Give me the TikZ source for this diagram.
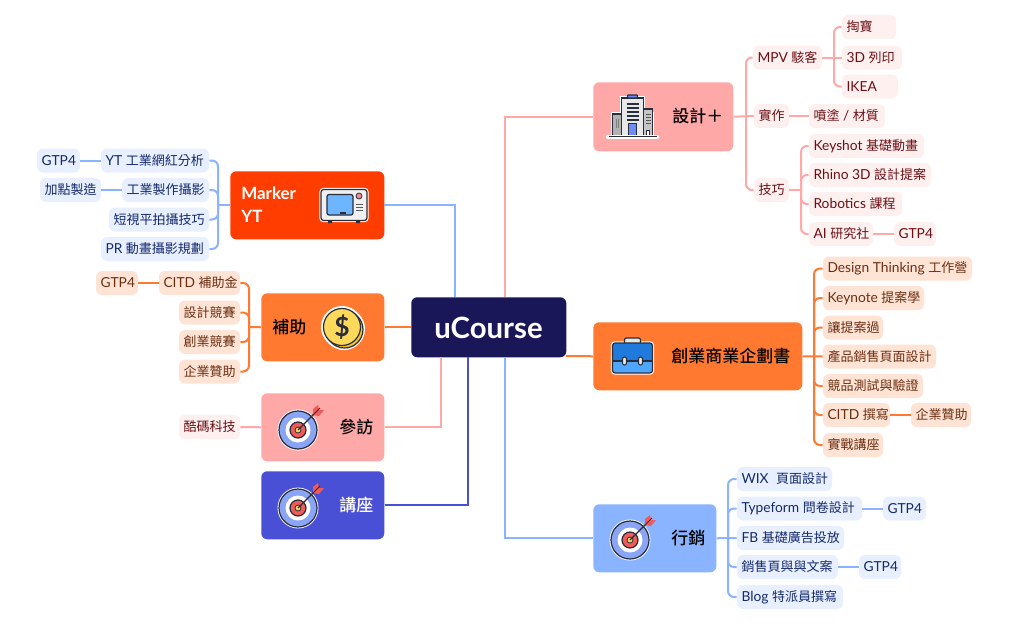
\documentclass[tikz,border=0pt]{standalone}
\usepackage{fontspec}
\setmainfont[Scale=1.06]{Lato}
\newfontfamily\cjk[BoldFont={Noto Sans CJK TC Medium}]{Noto Sans CJK TC}
\newcommand\C[1]{{\cjk #1}}
\usetikzlibrary{calc}
\definecolor{navy}{HTML}{1A1759}
\definecolor{pinkm}{HTML}{FFA8A8}
\definecolor{redm}{HTML}{FF3D00}
\definecolor{orgm}{HTML}{FF7A30}
\definecolor{indm}{HTML}{4A50D6}
\definecolor{blum}{HTML}{8AB4FF}
\definecolor{pinkl}{HTML}{FFF0F0}
\definecolor{orgl}{HTML}{FFE4D6}
\definecolor{blul}{HTML}{E8F0FF}
\definecolor{pinkt}{HTML}{6B0F14}
\definecolor{orgt}{HTML}{6B2F12}
\definecolor{blut}{HTML}{14296B}
\definecolor{ink}{HTML}{2A2D3A}
\definecolor{ringb}{HTML}{8AA5F5}
\definecolor{ringr}{HTML}{F05A5A}
\definecolor{gold}{HTML}{FFD95A}
\definecolor{gold2}{HTML}{F2C230}
\definecolor{screen}{HTML}{6DB6FF}
\definecolor{caset}{HTML}{1F7ADB}
\definecolor{caseb}{HTML}{4DA6FF}
\definecolor{doorb}{HTML}{6E8CF5}
\tikzset{
  x=0.75pt,y=-0.75pt,
  box/.style={rounded corners=4.5pt,inner sep=0pt,anchor=north west},
  mlabel/.style={anchor=west,inner sep=0pt,font=\fontsize{12.75pt}{17pt}\selectfont\bfseries,text=black},
  leafbase/.style={rounded corners=4.5pt,inner sep=0pt,minimum height=18pt,font=\fontsize{9.75pt}{12pt}\selectfont},
  lfp/.style={leafbase,fill=pinkl,text=pinkt},
  lfo/.style={leafbase,fill=orgl,text=orgt},
  lfb/.style={leafbase,fill=blul,text=blut},
  wire/.style={line width=1.5pt,line join=miter},
  wsoft/.style={line width=1.5pt,rounded corners=4.5pt},
  icon/.style={draw=ink,line width=0.9pt},
  halo/.style={draw=white,line width=2.2pt},
  targeticon/.pic={
    \draw[halo,fill=white] (0,0) circle (19);
    \draw[icon,fill=ringb] (0,0) circle (19);
    \fill[white] (0,0) circle (12.5);
    \draw[icon,fill=ringr] (0,0) circle (8);
    \draw[icon,fill=gold,line width=0.6pt] (0,0) circle (3);
    \draw[ink,line width=1pt] (0,0) -- (17,-17);
    \fill[ringr] (15,-15) -- (15,-21) -- (20,-25) -- (21,-20) -- (26,-20) -- (21,-14) -- cycle;
    \draw[ink,line width=.6pt] (15,-15) -- (22,-22);
  },
  buildingicon/.pic={
    \draw[white,line width=2.5pt] (-20,20) rectangle (20,-2) (-11,20) rectangle (11,-18);
    \draw[icon,fill=gray!60] (-20,20) rectangle (-11,-2);
    \draw[icon,fill=gray!45] (11,20) rectangle (20,-7);
    \draw[icon,fill=gray!18] (-11,20) -- (-11,-18) -- (11,-18) -- (11,20) -- cycle;
    \draw[icon,fill=doorb,rounded corners=.5pt] (-5,-18) rectangle (5,-21);
    \foreach \yy in {-12,-8,-4,0,4}{\draw[ink,line width=.8pt] (-6,\yy) -- (6,\yy);}
    \draw[ink,line width=.7pt,fill=doorb] (-4,19) rectangle (4,7);
    \foreach \yy in {-2,1,4,7}{\draw[ink!80,line width=.6pt] (13,\yy) -- (18,\yy);}
    \draw[ink,line width=.5pt,fill=white] (14,19) rectangle (17,14);
    \draw[gray,line width=.8pt] (-16,3) -- (-16,12) (-14,3) -- (-14,12);
    \draw[white,line width=2.5pt,line cap=round] (-25,21) -- (25,21);
    \draw[ink,line width=1.2pt] (-24,20.5) -- (24,20.5);
  },
  tvicon/.pic={
    \draw[white,line width=2.5pt,rounded corners=2pt] (-23,-15.5) rectangle (23,15.5);
    \fill[ink] (-16,15) rectangle (-12,18) (12,15) rectangle (16,18);
    \draw[icon,fill=gray!12,rounded corners=2pt] (-23,-15.5) rectangle (23,15.5);
    \draw[icon,fill=screen,rounded corners=1.5pt] (-17,-10.5) rectangle (9,10);
    \draw[ink,line width=.8pt] (-4,8) -- (2,8);
    \draw[ink,line width=.6pt,fill=ringr!70!white] (15,-9) circle (3);
    \foreach \yy in {-1,2,5}{\draw[ink!80,line width=.7pt] (11.5,\yy) -- (19,\yy);}
  },
  coinicon/.pic={
    \draw[white,line width=3pt] (2,2) circle (19);
    \draw[white,line width=3pt] (0,0) circle (19);
    \draw[icon,fill=gold2] (2.5,2.5) circle (18.5);
    \draw[icon,fill=gold] (0,0) circle (18.5);
    \node[inner sep=0pt,text=ink,font=\fontsize{18.7pt}{20pt}\selectfont\bfseries] (coinmark) at (0,0) {\$};
  },
  caseicon/.pic={
    \draw[white,line width=2.5pt,rounded corners=2pt] (-20,-13) rectangle (20,17);
    \draw[icon,fill=gray!20,rounded corners=1.5pt] (-8,-13) -- (-8,-18) -- (8,-18) -- (8,-13);
    \fill[caset,rounded corners=2pt] (-20,-13) rectangle (20,6);
    \fill[caseb,rounded corners=2pt] (-20,5) rectangle (20,17);
    \draw[ink,line width=.9pt] (-20,5) -- (20,5);
    \draw[icon,rounded corners=2pt] (-20,-13) rectangle (20,17);
    \foreach \xx in {-8,8}{\draw[ink,line width=.8pt,fill=gray!15,rounded corners=1.5pt] (\xx-2,1) rectangle (\xx+2,9);}
  },
}
% \leaf{style}{name}{x1}{x2}{ycentre}{text}
\newcommand\leaf[6]{%
  \pgfmathsetmacro\lcx{(#3+#4)/2}%
  \pgfmathsetmacro\lwd{(#4-#3)*0.75}%
  \node[#1,minimum width=\lwd pt] (#2) at (\lcx,#5) {\makebox[\lwd pt][l]{\hspace{3.4pt}\raisebox{-.5pt}{#6}}};}
\newcommand\mainbox[6]{%
  \pgfmathsetmacro\lwd{(#4-#3)*0.75}%
  \pgfmathsetmacro\lht{(#6-#5)*0.75}%
  \node[box,fill=#2,minimum width=\lwd pt,minimum height=\lht pt] (#1) at (#3,#5) {};}
\begin{document}
\begin{tikzpicture}
\useasboundingbox (0,0) rectangle (1010,625);
\fill[white] (0,0) rectangle (1010,625);

% main boxes
\mainbox{core}{navy}{411}{566}{297}{357}
\mainbox{design}{pinkm}{593}{733}{82}{151}
\mainbox{marker}{redm}{230}{384}{171}{239}
\mainbox{aid}{orgm}{261}{384}{293}{361}
\mainbox{visit}{pinkm}{261}{384}{393}{461}
\mainbox{talk}{indm}{261}{384}{471}{539}
\mainbox{plan}{orgm}{593}{802}{322}{390}
\mainbox{market}{blum}{593}{716}{504}{572}

% leaves: design
\leaf{lfp}{mpv}{753}{822}{57.5}{MPV \C{駭客}}
\leaf{lfp}{taobao}{842}{896}{27}{\C{掏寶}}
\leaf{lfp}{print}{842}{902}{57.5}{3D \C{列印}}
\leaf{lfp}{ikea}{842}{898}{86.5}{IKEA}
\leaf{lfp}{make}{754}{789}{116}{\C{實作}}
\leaf{lfp}{paint}{809}{885}{116}{\C{噴塗} / \C{材質}}
\leaf{lfp}{skill}{754}{789}{190}{\C{技巧}}
\leaf{lfp}{keyshot}{809}{924}{146}{Keyshot \C{基礎動畫}}
\leaf{lfp}{rhino}{809}{931}{175}{Rhino 3D \C{設計提案}}
\leaf{lfp}{robot}{809}{902}{204}{Robotics \C{課程}}
\leaf{lfp}{ai}{809}{873}{234}{AI \C{研究社}}
\leaf{lfp}{aigtp}{894}{936}{234}{GTP4}
% leaves: marker
\leaf{lfb}{yt}{101}{209}{160.5}{YT \C{工業網紅分析}}
\leaf{lfb}{ytgtp}{37}{80}{160.5}{GTP4}
\leaf{lfb}{shoot}{122}{209}{190}{\C{工業製作攝影}}
\leaf{lfb}{addon}{40}{101}{190}{\C{加點製造}}
\leaf{lfb}{short}{109}{209}{219.5}{\C{短視平拍攝技巧}}
\leaf{lfb}{pr}{101}{209}{249}{PR \C{動畫攝影規劃}}
% leaves: aid
\leaf{lfo}{citd}{159}{240}{283}{CITD \C{補助金}}
\leaf{lfo}{citdgtp}{96}{138}{283}{GTP4}
\leaf{lfo}{dcomp}{179}{240}{312.5}{\C{設計競賽}}
\leaf{lfo}{scomp}{179}{240}{342}{\C{創業競賽}}
\leaf{lfo}{spons}{179}{240}{371.5}{\C{企業贊助}}
% leaf: visit
\leaf{lfp}{coolmark}{179}{240}{427}{\C{酷碼科技}}
% leaves: plan
\leaf{lfo}{dt}{823}{972}{268.5}{Design Thinking \C{工作營}}
\leaf{lfo}{keynote}{823}{924}{298}{Keynote \C{提案學}}
\leaf{lfo}{pitch}{823}{883}{327.5}{\C{讓提案過}}
\leaf{lfo}{page}{823}{936}{356.5}{\C{產品銷售頁面設計}}
\leaf{lfo}{test}{823}{923}{386}{\C{競品測試與驗證}}
\leaf{lfo}{citdw}{823}{890}{415}{CITD \C{撰寫}}
\leaf{lfo}{corp}{911}{971}{415}{\C{企業贊助}}
\leaf{lfo}{real}{823}{883}{445}{\C{實戰講座}}
% leaves: market
\leaf{lfb}{wix}{737}{832}{479}{WIX\hspace{3pt} \C{頁面設計}}
\leaf{lfb}{form}{737}{862}{508.5}{Typeform \C{問卷設計}}
\leaf{lfb}{formgtp}{883}{926}{508.5}{GTP4}
\leaf{lfb}{fb}{737}{844}{538}{FB \C{基礎廣告投放}}
\leaf{lfb}{sales}{737}{838}{567}{\C{銷售頁與與文案}}
\leaf{lfb}{salesgtp}{859}{901}{567}{GTP4}
\leaf{lfb}{blog}{737}{843}{597}{Blog \C{特派員撰寫}}

% spine points
\coordinate (sdesign) at (746,116.5);
\coordinate (smpv) at (834,57.5);
\coordinate (sskill) at (801,190);
\coordinate (smarker) at (218,205);
\coordinate (said) at (249,327);
\coordinate (splan) at (814,356);
\coordinate (smarket) at (728,538);
\coordinate (jmarker) at (455,297);
\coordinate (jdesign) at (505,297);
\coordinate (jvisit) at (441,357);
\coordinate (jtalk) at (468,357);
\coordinate (jmarket) at (505,357);
\coordinate (jplan) at (566,356);
\coordinate (amarker) at (384,205);

% core connectors
\draw[wire,blum] (amarker) -| (jmarker);
\draw[wire,pinkm] (jdesign) |- (design.west);
\draw[wire,orgm] (aid.east) -- (core.west |- aid.east);
\draw[wire,pinkm] (visit.east) -| (jvisit);
\draw[wire,indm] (talk.east) -| (jtalk);
\draw[wire,blum] (jmarket) |- (market.west);
\draw[wire,orgm] (jplan) -- (plan.west);

% branch connectors
\draw[wsoft,pinkm] (design.east) -- (make.west);
\draw[wsoft,pinkm] (sdesign) |- (mpv.west);
\draw[wsoft,pinkm] (sdesign) |- (skill.west);
\draw[wsoft,pinkm] (make.east) -- (paint.west);
\draw[wsoft,pinkm] (mpv.east) -- (print.west);
\draw[wsoft,pinkm] (smpv) |- (taobao.west);
\draw[wsoft,pinkm] (smpv) |- (ikea.west);
\draw[wsoft,pinkm] (skill.east) -- (sskill);
\draw[wsoft,pinkm] (sskill) |- (keyshot.west);
\draw[wsoft,pinkm] (sskill) |- (rhino.west);
\draw[wsoft,pinkm] (sskill) |- (robot.west);
\draw[wsoft,pinkm] (sskill) |- (ai.west);
\draw[wsoft,pinkm] (ai.east) -- (aigtp.west);
\draw[wsoft,blum] (marker.west |- smarker) -- (smarker);
\draw[wsoft,blum] (smarker) |- (yt.east);
\draw[wsoft,blum] (smarker) |- (shoot.east);
\draw[wsoft,blum] (smarker) |- (short.east);
\draw[wsoft,blum] (smarker) |- (pr.east);
\draw[wsoft,blum] (yt.west) -- (ytgtp.east);
\draw[wsoft,blum] (shoot.west) -- (addon.east);
\draw[wsoft,orgm] (aid.west) -- (said);
\draw[wsoft,orgm] (said) |- (citd.east);
\draw[wsoft,orgm] (said) |- (dcomp.east);
\draw[wsoft,orgm] (said) |- (scomp.east);
\draw[wsoft,orgm] (said) |- (spons.east);
\draw[wsoft,orgm] (citd.west) -- (citdgtp.east);
\draw[wsoft,pinkm] (visit.west) -- (coolmark.east);
\draw[wsoft,orgm] (plan.east) -- (page.west);
\draw[wsoft,orgm] (splan) |- (dt.west);
\draw[wsoft,orgm] (splan) |- (keynote.west);
\draw[wsoft,orgm] (splan) |- (pitch.west);
\draw[wsoft,orgm] (splan) |- (test.west);
\draw[wsoft,orgm] (splan) |- (citdw.west);
\draw[wsoft,orgm] (splan) |- (real.west);
\draw[wsoft,orgm] (citdw.east) -- (corp.west);
\draw[wsoft,blum] (market.east) -- (fb.west);
\draw[wsoft,blum] (smarket) |- (wix.west);
\draw[wsoft,blum] (smarket) |- (form.west);
\draw[wsoft,blum] (smarket) |- (sales.west);
\draw[wsoft,blum] (smarket) |- (blog.west);
\draw[wsoft,blum] (form.east) -- (formgtp.west);
\draw[wsoft,blum] (sales.east) -- (salesgtp.west);

% labels
\node[anchor=center,inner sep=0pt,text=white,font=\fontsize{20.75pt}{24pt}\selectfont\bfseries] (corelabel) at (488.5,327.5) {uCourse};
\node[mlabel] (designlabel) at (672,116) {\C{設計＋}};
\node[mlabel,text=white,align=left,font=\fontsize{12pt}{17pt}\selectfont\bfseries] (markerlabel) at (241,204.5) {Marker\\YT};
\node[mlabel] (aidlabel) at (272,327) {\C{補助}};
\node[mlabel] (visitlabel) at (339,427) {\C{參訪}};
\node[mlabel,text=white] (talklabel) at (339,505) {\C{講座}};
\node[mlabel] (planlabel) at (671,356) {\C{創業商業企劃書}};
\node[mlabel] (marketlabel) at (671,538) {\C{行銷}};

% icons
\pic at (632.5,116) {buildingicon};
\pic at (344,205) {tvicon};
\pic at (342,327) {coinicon};
\pic at (298,430) {targeticon};
\pic at (298,508) {targeticon};
\pic at (630,540) {targeticon};
\pic at (632.5,356) {caseicon};
\end{tikzpicture}
\end{document}
